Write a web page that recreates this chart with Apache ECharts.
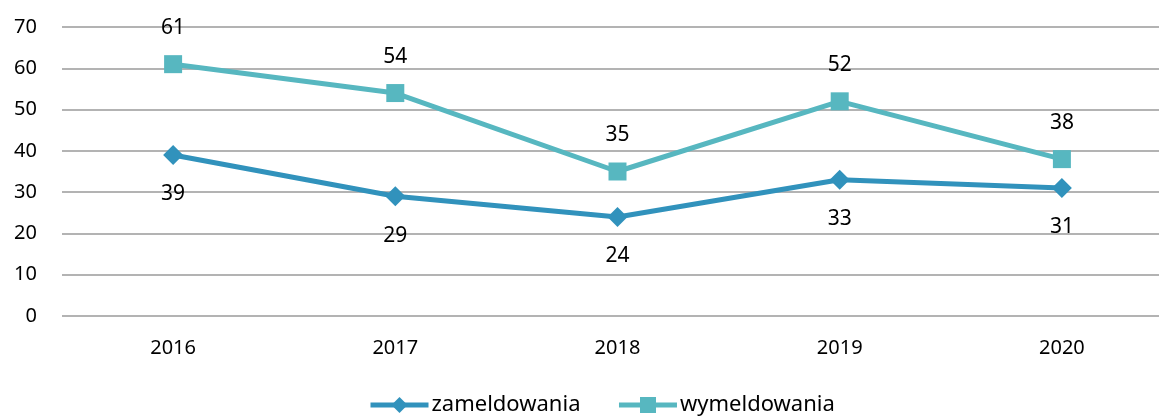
<!DOCTYPE html>
<html>
<head>
<meta charset="utf-8">
<script src="https://cdn.jsdelivr.net/npm/echarts@6/dist/echarts.min.js"></script>
<style>
html, body { margin: 0; padding: 0; background: #fff; }
#chart { width: 1159px; height: 417px; }
</style>
</head>
<body>
<div id="chart"></div>
<script>
var years = ['2016', '2017', '2018', '2019', '2020'];
var zameldowania = [39, 29, 24, 33, 31];
var wymeldowania = [61, 54, 35, 52, 38];
var yTicks = [0, 10, 20, 30, 40, 50, 60, 70];

var FONT = '"Noto Sans", sans-serif';
var chart = echarts.init(document.getElementById('chart'));

chart.setOption({
    backgroundColor: '#fff',
    animation: false,
    textStyle: { fontFamily: FONT },
    grid: {
        left: 62,
        top: 27,
        width: 1111,
        height: 289,
        containLabel: false,
        outerBoundsMode: 'none'
    },
    legend: {
        bottom: -4,
        left: 363,
        itemGap: 36,
        itemWidth: 58,
        itemHeight: 20,
        lineStyle: { width: 5 },
        textStyle: { fontSize: 22, color: '#000', fontFamily: FONT, padding: [0, 0, 0, -2] },
        data: ['zameldowania', 'wymeldowania']
    },
    xAxis: {
        type: 'category',
        data: years,
        boundaryGap: true,
        axisLine: { show: false },
        axisTick: { show: false },
        axisLabel: { color: '#000', fontSize: 20, margin: 22, fontFamily: FONT }
    },
    yAxis: {
        type: 'value',
        min: yTicks[0],
        max: yTicks[yTicks.length - 1],
        interval: 10,
        axisLine: { show: false },
        axisTick: { show: false },
        axisLabel: { color: '#000', fontSize: 20, margin: 25, fontFamily: FONT },
        splitLine: { lineStyle: { color: '#9a9a9a', width: 1.5 } }
    },
    series: [{
        name: 'zameldowania',
        type: 'line',
        data: zameldowania,
        color: '#3192BC',
        symbol: 'diamond',
        symbolSize: 20,
        lineStyle: { width: 5 },
        label: {
            show: true,
            position: 'bottom',
            distance: 19,
            color: '#000',
            fontSize: 21,
            fontFamily: FONT
        }
    }, {
        name: 'wymeldowania',
        type: 'line',
        data: wymeldowania,
        color: '#57B7C0',
        symbol: 'rect',
        symbolSize: 18,
        lineStyle: { width: 5 },
        label: {
            show: true,
            position: 'top',
            distance: 17,
            color: '#000',
            fontSize: 21,
            fontFamily: FONT
        }
    }]
});
</script>
</body>
</html>
